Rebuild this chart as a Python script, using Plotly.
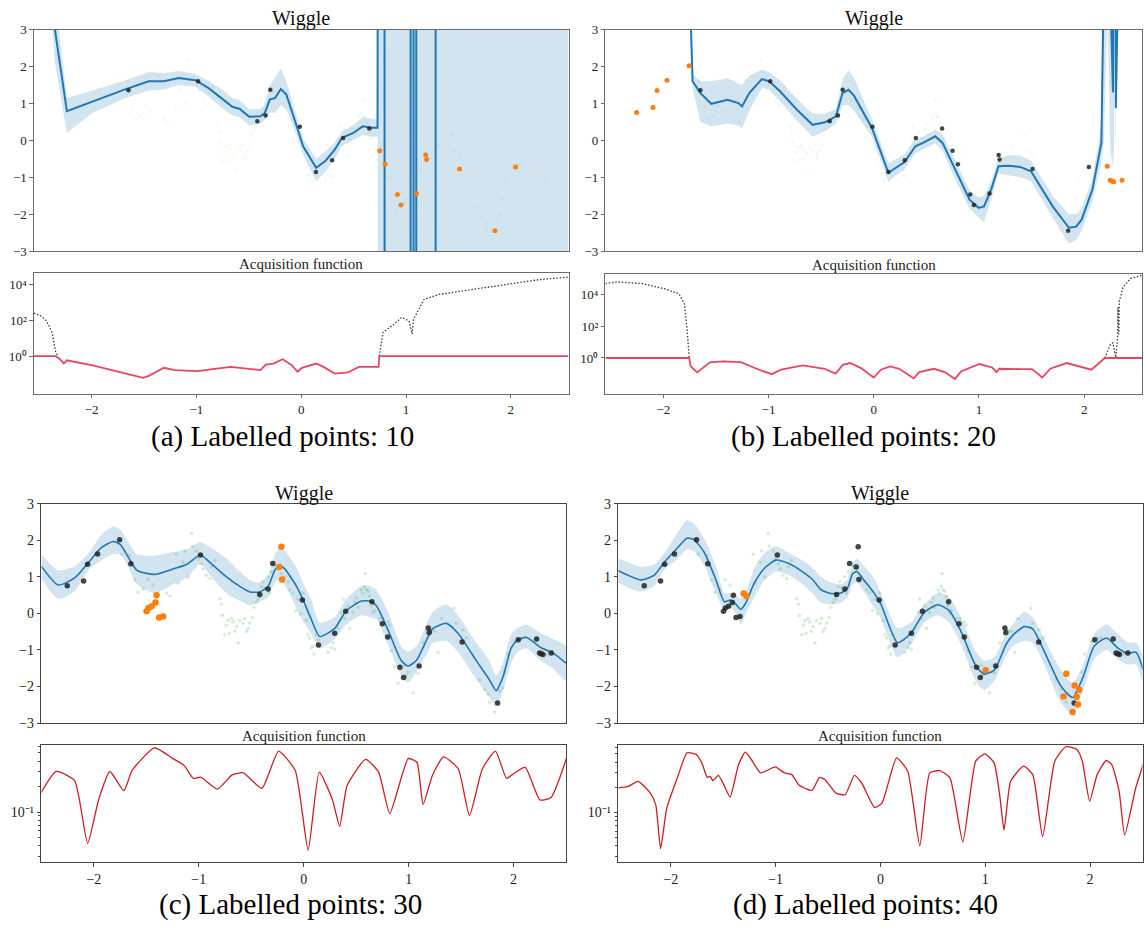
import plotly.graph_objects as go

SERIF = "Liberation Serif, Times New Roman, serif"
BLUE = "#1f77b4"
BAND = "rgba(31,119,180,0.2)"
ORANGE = "#ff7f0e"
DARK = "rgba(35,35,35,0.85)"
W, H = 1144, 936

# ---------------- labelled points, in the order they were acquired ----------------
batch0_x = [-1.648, -0.984, -0.419, -0.340, -0.295, -0.013, 0.140, 0.295, 0.400, 0.650]
batch0_y = [1.36, 1.60, 0.52, 0.67, 1.37, 0.37, -0.86, -0.54, 0.06, 0.32]
batch1_x = [0.749, 0.800, 0.917, 0.952, 1.100, 1.187, 1.196, 1.510, 1.848, 2.045]
batch1_y = [-0.28, -0.645, -1.47, -1.75, -1.44, -0.40, -0.52, -0.78, -2.45, -0.72]
batch2_x = [-2.254, -2.098, -2.060, -1.965, -1.755, 2.220, 2.248, 2.265, 2.280, 2.360]
batch2_y = [0.757, 0.89, 1.35, 1.63, 2.02, -0.70, -1.08, -1.10, -1.12, -1.08]
batch3_x = [-1.403, -1.413, -1.450, -1.480, -1.498, -1.378, -1.340, -0.213, -0.232, -0.206]
batch3_y = [0.50, 0.30, 0.20, 0.15, 0.06, -0.11, -0.08, 1.83, 1.27, 0.93]
batch4_x = [-1.305, -1.280, 1.003, 1.773, 1.747, 1.852, 1.897, 1.872, 1.884, 1.833]
batch4_y = [0.55, 0.48, -1.553, -1.65, -2.27, -1.97, -2.09, -2.28, -2.49, -2.70]

# ---------------- unlabelled pool ----------------
pool_x = [-1.737, -1.657, -1.610, -1.578, -1.530, -1.483, -1.435, -1.308, -1.276, -1.213,
          -1.197, -1.149, -1.133, -1.102, -1.070, -1.060, -1.022, -1.006, -0.975, -0.959,
          -0.927, -0.895, -0.879, -0.848, -0.800, -0.784, -0.775, -0.752, -0.737, -0.721,
          -0.711, -0.689, -0.673, -0.657, -0.641, -0.625, -0.610, -0.578, -0.562, -0.546,
          -0.530, -0.514, -0.489, -0.476, -0.451, -0.435, -0.419, -0.403, -0.387, -0.371,
          -0.340, -0.324, -0.308, -0.260, -0.213, -0.181, -0.149, -0.133, -0.102, -0.076,
          -0.054, -0.032, -0.006, 0.025, 0.041, 0.057, 0.073, 0.089, 0.098, 0.121,
          0.137, 0.232, 0.263, 0.279, 0.295, 0.327, 0.359, 0.375, 0.390, 0.422,
          0.438, 0.470, 0.486, 0.502, 0.517, 0.549, 0.565, 0.581, 0.587, 0.597,
          0.613, 0.629, 0.644, 0.660, 0.676, 0.724, 0.756, 0.803, 0.819, 0.835,
          0.867, 0.898, 0.962, 0.978, 0.994, 1.041, 1.089, 1.137, 1.184, 1.216,
          1.248, 1.279, 1.311, 1.432, 1.454, 1.517, 1.549, 1.676, 1.724, 1.756,
          1.771, 1.819, 1.867, 1.898, 1.914, 1.946, 2.010, 2.073, 2.105, 2.327]
pool_y = [1.62, 1.58, 0.92, 0.58, 0.67, 0.93, 0.78, 0.56, 0.48, 1.62,
          0.83, 1.40, 1.71, 1.00, 2.19, 1.84, 1.71, 1.49, 1.36, 1.22,
          1.05, 0.96, 1.27, 1.45, 0.40, 0.25, -0.05, -0.58, -0.32, -0.19,
          -0.54, -0.14, -0.23, -0.49, -0.36, -0.80, -0.19, -0.27, -0.14, -0.49,
          -0.41, -0.27, -0.12, 0.17, 0.30, 0.39, 0.48, 0.74, 0.87, 0.70,
          1.00, 0.56, 1.14, 1.31, 1.09, 1.00, 0.87, 0.65, 0.56, 0.08,
          0.39, -0.01, 0.56, -0.19, -0.58, -0.67, -0.94, -0.89, -1.11, -0.58,
          -0.72, -1.07, -0.94, -0.80, -0.98, -0.41, 0.03, 0.39, -0.14, 0.21,
          -0.41, 0.03, 0.30, 0.43, 0.17, 0.65, 0.56, 0.74, 1.09, 0.65,
          0.61, 0.48, 0.21, 0.03, 0.08, -0.14, -0.14, -0.23, -0.32, -1.02,
          -1.46, -1.91, -1.42, -1.69, -1.60, -2.17, -1.64, -0.80, -0.58, -0.45,
          -0.49, -1.07, -0.14, 0.14, -0.27, -0.45, -0.67, -1.82, -2.08, -2.21,
          -2.43, -2.70, -2.13, -2.04, -1.60, -1.11, -0.76, -0.67, -0.67, -1.11]

# ---------------- posterior mean and band, 10 labelled ----------------
a_x = [-2.55, -2.45, -2.35, -2.236, -1.99, -1.70, -1.455, -1.31, -1.17, -1.01,
       -0.887, -0.745, -0.657, -0.586, -0.497, -0.39, -0.348, -0.30, -0.248, -0.195,
       -0.142, -0.053, 0.018, 0.142, 0.23, 0.32, 0.39, 0.497, 0.586, 0.674,
       0.728, 0.752, 0.79, 0.80, 1.04, 1.047, 1.068, 1.075, 1.095, 1.10,
       1.28, 1.285, 2.55]
a_mean = [12, 7.5, 3.0, 0.79, 1.06, 1.36, 1.60, 1.60, 1.69, 1.63,
          1.42, 1.105, 0.91, 0.85, 0.64, 0.65, 0.74, 1.105, 1.15, 1.39,
          1.24, 0.47, -0.16, -0.745, -0.56, -0.25, 0.07, 0.20, 0.38, 0.34,
          0.34, 60, 60, -60, -60, 60, 60, -60, -60, 60,
          60, -60, -60]
a_up = [14, 9, 3.9, 1.15, 1.35, 1.60, 1.85, 1.82, 1.88, 1.80,
        1.62, 1.35, 1.15, 1.08, 0.85, 0.85, 0.95, 1.50, 1.70, 1.95,
        1.60, 0.75, 0.05, -0.5, -0.3, -0.05, 0.25, 0.40, 0.62, 0.60,
        0.55, 100, 100, 100, 100, 100, 100, 100, 100, 100,
        100, 100, 100]
a_lo = [10, 6, 2.1, 0.2, 0.75, 1.12, 1.35, 1.38, 1.50, 1.45,
        1.20, 0.85, 0.67, 0.62, 0.40, 0.45, 0.55, 0.75, 0.75, 0.95,
        0.85, 0.20, -0.40, -1.10, -0.85, -0.50, -0.15, 0.0, 0.15, 0.10,
        0.10, -100, -100, -100, -100, -100, -100, -100, -100, -100,
        -100, -100, -100]

# ---------------- 20 labelled ----------------
b_x = [-2.55, -1.76, -1.739, -1.722, -1.647, -1.544, -1.389, -1.286, -1.252, -1.183,
       -1.063, -0.994, -0.891, -0.737, -0.582, -0.462, -0.359, -0.297, -0.239, -0.188,
       -0.016, 0.139, 0.293, 0.396, 0.482, 0.585, 0.654, 0.774, 0.911, 0.997,
       1.048, 1.117, 1.186, 1.289, 1.392, 1.495, 1.701, 1.855, 1.924, 1.976,
       2.078, 2.164, 2.19, 2.22, 2.25, 2.274, 2.284, 2.29, 2.298, 2.301,
       2.304, 2.31, 2.55]
b_mean = [40, 20, 3.2, 1.60, 1.28, 0.99, 1.10, 1.01, 0.92, 1.28,
          1.66, 1.60, 1.33, 0.85, 0.42, 0.49, 0.65, 1.28, 1.37, 1.21,
          0.33, -0.88, -0.59, -0.16, -0.05, 0.11, -0.07, -0.79, -1.61, -1.83,
          -1.79, -1.33, -0.70, -0.69, -0.72, -0.84, -1.79, -2.37, -2.34, -2.15,
          -1.34, -0.07, 5, 15, 4, 1.3, 4, 15, 4, 0.87,
          4, 20, 40]
b_up = [60, 30, 4, 1.8, 1.6, 1.6, 1.68, 1.55, 1.50, 1.75,
        1.92, 1.85, 1.62, 1.15, 0.72, 0.72, 0.85, 1.65, 1.90, 1.70,
        0.55, -0.62, -0.38, 0.05, 0.12, 0.30, 0.15, -0.55, -1.35, -1.55,
        -1.50, -1.10, -0.50, -0.40, -0.42, -0.55, -1.50, -2.00, -2.00, -1.85,
        -1.05, 0.40, 10, 30, 10, 3.2, 10, 30, 10, 6,
        10, 40, 60]
b_lo = [30, 10, 2.5, 1.4, 0.5, 0.38, 0.45, 0.40, 0.33, 0.80,
        1.42, 1.38, 1.05, 0.55, 0.10, 0.25, 0.45, 0.95, 0.95, 0.80,
        0.10, -1.12, -0.78, -0.35, -0.22, -0.08, -0.28, -1.05, -1.85, -2.10,
        -2.20, -1.60, -0.90, -0.95, -1.00, -1.10, -2.10, -2.80, -2.70, -2.45,
        -1.65, -0.60, 0.0, 3.5, -0.3, -0.7, -0.3, 5, 0.0, -0.3,
        0.0, 10, 40]

# ---------------- 30 labelled ----------------
c_x = [-2.50, -2.34, -2.18, -2.05, -1.93, -1.815, -1.75, -1.67, -1.59, -1.42,
       -1.245, -1.117, -0.984, -0.895, -0.736, -0.61, -0.514, -0.42, -0.34, -0.276,
       -0.229, -0.181, -0.07, 0.0, 0.07, 0.152, 0.295, 0.407, 0.55, 0.629,
       0.692, 0.803, 0.93, 0.993, 1.073, 1.184, 1.232, 1.359, 1.47, 1.645,
       1.771, 1.835, 1.90, 1.978, 2.04, 2.12, 2.264, 2.374, 2.50]
c_mean = [1.29, 0.78, 0.98, 1.40, 1.80, 1.97, 1.89, 1.53, 1.18, 1.07,
          1.22, 1.34, 1.60, 1.40, 1.00, 0.74, 0.59, 0.59, 0.74, 1.18,
          1.31, 1.22, 0.75, 0.33, -0.15, -0.63, -0.41, 0.08, 0.34, 0.34,
          0.21, -0.45, -1.29, -1.44, -1.29, -0.65, -0.41, -0.27, -0.54, -1.29,
          -1.82, -2.11, -1.73, -0.94, -0.73, -0.65, -0.94, -1.08, -1.36]
c_up = [1.62, 1.18, 1.30, 1.65, 2.15, 2.38, 2.30, 1.95, 1.62, 1.58,
        1.68, 1.75, 1.95, 1.82, 1.50, 1.15, 0.92, 0.85, 1.05, 1.60,
        1.78, 1.72, 1.25, 0.80, 0.40, -0.25, -0.10, 0.40, 0.75, 0.75,
        0.65, 0.05, -0.90, -1.05, -0.90, -0.20, 0.05, 0.25, -0.05, -0.80,
        -1.30, -1.70, -1.35, -0.55, -0.40, -0.30, -0.55, -0.70, -0.90]
c_lo = [0.95, 0.40, 0.62, 1.20, 1.45, 1.62, 1.62, 1.25, 0.80, 0.55,
        0.80, 0.98, 1.35, 1.05, 0.55, 0.35, 0.22, 0.32, 0.45, 0.85,
        0.90, 0.78, 0.15, -0.25, -0.55, -0.95, -0.70, -0.30, -0.05, -0.10,
        -0.15, -0.85, -1.70, -1.90, -1.60, -1.05, -0.80, -0.75, -1.05, -1.80,
        -2.30, -2.55, -2.10, -1.35, -1.05, -0.95, -1.30, -1.50, -1.85]

# ---------------- 40 labelled ----------------
d_x = [-2.509, -2.285, -2.158, -2.063, -1.951, -1.846, -1.777, -1.681, -1.57, -1.49,
       -1.427, -1.379, -1.331, -1.283, -1.204, -1.109, -0.997, -0.870, -0.743, -0.648,
       -0.568, -0.472, -0.377, -0.314, -0.266, -0.224, -0.171, -0.059, 0.005, 0.163,
       0.291, 0.418, 0.545, 0.656, 0.768, 0.911, 0.990, 1.086, 1.198, 1.261,
       1.372, 1.452, 1.547, 1.722, 1.833, 1.929, 2.04, 2.158, 2.262, 2.358,
       2.438, 2.508]
d_mean = [1.18, 0.92, 1.05, 1.40, 1.75, 2.06, 2.02, 1.67, 0.92, 0.32,
          0.37, 0.25, 0.11, 0.30, 0.83, 1.23, 1.46, 1.36, 1.14, 0.93,
          0.65, 0.545, 0.56, 0.70, 1.09, 1.15, 0.96, 0.55, 0.25, -0.80,
          -0.54, 0.03, 0.24, 0.08, -0.49, -1.44, -1.66, -1.55, -0.85, -0.60,
          -0.36, -0.42, -0.94, -1.99, -2.30, -1.77, -0.89, -0.67, -0.94, -1.09,
          -1.06, -1.55]
d_up = [1.52, 1.28, 1.35, 1.65, 2.15, 2.55, 2.45, 2.05, 1.30, 0.55,
        0.55, 0.50, 0.40, 0.60, 1.25, 1.65, 1.85, 1.65, 1.45, 1.25,
        1.00, 0.85, 0.80, 0.95, 1.40, 1.50, 1.35, 0.95, 0.55, -0.40,
        -0.25, 0.25, 0.55, 0.45, -0.10, -1.05, -1.30, -1.20, -0.55, -0.30,
        0.05, -0.10, -0.60, -1.55, -1.90, -1.45, -0.55, -0.30, -0.55, -0.80,
        -0.80, -1.20]
d_lo = [0.85, 0.60, 0.75, 1.20, 1.45, 1.75, 1.70, 1.30, 0.55, 0.10,
        0.15, 0.00, -0.30, 0.00, 0.45, 0.90, 1.15, 1.05, 0.80, 0.55,
        0.30, 0.25, 0.30, 0.45, 0.80, 0.85, 0.65, 0.15, -0.15, -1.20,
        -0.85, -0.25, -0.05, -0.25, -0.85, -1.85, -2.10, -1.85, -1.15, -0.90,
        -0.75, -0.80, -1.30, -2.45, -2.75, -2.15, -1.25, -1.00, -1.25, -1.40,
        -1.40, -1.90]

# ---------------- acquisition functions (log10 of value) ----------------
acq_a_x = [-2.55, -2.343, -2.307, -2.265, -2.236, -2.22, -1.99, -1.508, -1.455, -1.31,
           -1.207, -0.994, -0.674, -0.39, -0.337, -0.266, -0.177, -0.089, -0.035, 0.007,
           0.142, 0.213, 0.319, 0.444, 0.55, 0.674, 0.738, 0.745, 2.55]
acq_a_log = [0, 0, -0.15, -0.42, -0.24, -0.26, -0.52, -1.22, -1.11, -0.66,
             -0.79, -0.85, -0.61, -0.79, -0.48, -0.42, -0.18, -0.52, -0.88, -0.66,
             -0.42, -0.61, -0.98, -0.92, -0.61, -0.61, -0.61, 0, 0]
raw_a_x = [-2.55, -2.484, -2.43, -2.378, -2.343, -2.32, None,
           0.745, 0.78, 0.887, 0.958, 1.029, 1.058, 1.072, 1.171, 1.313, 1.56, 1.917, 2.27, 2.55]
raw_a_log = [2.40, 2.25, 1.97, 1.33, 0.22, 0.0, None,
             0.0, 1.33, 1.79, 2.16, 1.97, 1.24, 2.06, 3.17, 3.45, 3.67, 4.0, 4.28, 4.42]

acq_b_x = [-2.55, -1.754, -1.74, -1.678, -1.557, -1.436, -1.263, -1.09, -0.969, -0.882,
           -0.675, -0.467, -0.363, -0.294, -0.225, -0.121, 0.0, 0.069, 0.156, 0.242,
           0.38, 0.433, 0.571, 0.675, 0.772, 0.83, 1.003, 1.125, 1.166, 1.194,
           1.401, 1.505, 1.602, 1.678, 1.834, 1.955, 2.069, 2.197, 2.55]
acq_b_log = [0, 0, -0.53, -0.91, -0.28, -0.21, -0.26, -0.74, -1.02, -0.74,
             -0.47, -0.68, -0.98, -0.43, -0.32, -0.64, -1.23, -0.74, -0.53, -0.68,
             -1.28, -0.89, -0.68, -0.89, -1.32, -0.85, -0.38, -0.6, -0.89, -0.68,
             -0.70, -0.70, -1.23, -0.68, -0.32, -0.53, -0.74, 0, 0]
raw_b_x = [-2.55, -2.44, -2.197, -1.99, -1.851, -1.8, -1.775, -1.754, None,
           2.197, 2.249, 2.273, 2.301, 2.318, 2.322, 2.329, 2.335, 2.37, 2.44, 2.55]
raw_b_log = [4.68, 4.79, 4.68, 4.36, 4.04, 3.40, 1.91, 0.0, None,
             0.0, 0.85, 0.96, 0.04, 1.28, 3.19, 1.5, 3.6, 4.47, 5.0, 5.21]

acq_c_x = [-2.512, -2.36, -2.184, -2.06, -1.954, -1.848, -1.714, -1.636, -1.424, -1.247,
           -1.141, -1.053, -0.982, -0.823, -0.682, -0.576, -0.399, -0.24, -0.081, 0.042,
           0.148, 0.272, 0.343, 0.413, 0.59, 0.714, 0.82, 0.996, 1.078, 1.138,
           1.226, 1.332, 1.473, 1.58, 1.703, 1.827, 1.933, 1.986, 2.11, 2.251,
           2.357, 2.509]
acq_c_log = [-0.788, -0.52, -0.628, -1.368, -0.848, -0.52, -0.748, -0.508, -0.24, -0.368,
             -0.448, -0.6, -0.588, -0.728, -0.56, -0.536, -0.72, -0.28, -0.508, -1.448,
             -0.528, -0.848, -1.168, -0.688, -0.376, -0.528, -1.016, -0.368, -0.408, -0.908,
             -0.568, -0.348, -0.488, -1.04, -0.488, -0.28, -0.6, -0.56, -0.468, -0.856,
             -0.828, -0.348]

acq_d_x = [-2.519, -2.407, -2.312, -2.196, -2.144, -2.098, -2.039, -1.933, -1.846, -1.758,
           -1.705, -1.653, -1.625, -1.6, -1.547, -1.495, -1.435, -1.354, -1.291, -1.232,
           -1.144, -1.004, -0.916, -0.846, -0.775, -0.653, -0.582, -0.53, -0.425, -0.337,
           -0.249, -0.179, -0.056, 0.014, 0.154, 0.26, 0.375, 0.47, 0.565, 0.663,
           0.786, 0.909, 0.996, 1.084, 1.137, 1.179, 1.242, 1.365, 1.453, 1.547,
           1.663, 1.768, 1.874, 1.926, 1.996, 2.067, 2.154, 2.207, 2.277, 2.33,
           2.435, 2.516]
acq_d_log = [-0.708, -0.688, -0.628, -0.768, -0.908, -1.428, -0.948, -0.568, -0.288, -0.308,
             -0.408, -0.58, -0.568, -0.62, -0.556, -0.668, -0.816, -0.428, -0.28, -0.368,
             -0.528, -0.456, -0.528, -0.548, -0.676, -0.736, -0.58, -0.608, -0.768, -0.788,
             -0.556, -0.648, -0.94, -0.888, -0.348, -0.508, -1.396, -0.528, -0.50, -0.588,
             -1.348, -0.388, -0.30, -0.408, -0.788, -1.208, -0.628, -0.448, -0.548, -1.288,
             -0.388, -0.216, -0.248, -0.388, -0.868, -0.548, -0.38, -0.428, -0.748, -1.268,
             -0.708, -0.388]

captions = ["(a) Labelled points: 10", "(b) Labelled points: 20",
            "(c) Labelled points: 30", "(d) Labelled points: 40"]


def pow10(vals):
    return [None if v is None else 10 ** v for v in vals]


def px_x(p):
    return p / W


def px_y(p):
    return 1 - p / H


# panel geometry in pixels
panels = [
    dict(l=34, r=569, mt=23, mb=248, at=270, ab=393, xr=[-2.55, 2.55], cap=(283, 437)),
    dict(l=606, r=1143, mt=23, mb=248, at=271, ab=393, xr=[-2.55, 2.55], cap=(864, 437)),
    dict(l=41.5, r=566.5, mt=505, mb=727.7, at=750, ab=869, xr=[-2.5, 2.5], cap=(291, 912)),
    dict(l=619, r=1143.5, mt=505, mb=727.7, at=750, ab=869, xr=[-2.5, 2.5], cap=(866, 912)),
]
acq_ranges = [[-2.11, 4.67], [-2.25, 5.31], [-1.59, -0.207], [-1.59, -0.195]]

mains = [
    (a_x, a_mean, a_up, a_lo, batch0_x, batch0_y, batch1_x, batch1_y),
    (b_x, b_mean, b_up, b_lo, batch0_x + batch1_x, batch0_y + batch1_y, batch2_x, batch2_y),
    (c_x, c_mean, c_up, c_lo, batch0_x + batch1_x + batch2_x, batch0_y + batch1_y + batch2_y,
     batch3_x, batch3_y),
    (d_x, d_mean, d_up, d_lo, batch0_x + batch1_x + batch2_x + batch3_x,
     batch0_y + batch1_y + batch2_y + batch3_y, batch4_x, batch4_y),
]
acqs = [
    (acq_a_x, acq_a_log, raw_a_x, raw_a_log),
    (acq_b_x, acq_b_log, raw_b_x, raw_b_log),
    (acq_c_x, acq_c_log, None, None),
    (acq_d_x, acq_d_log, None, None),
]

fig = go.Figure()
layout = dict(width=W, height=H, margin=dict(l=0, r=0, t=0, b=0),
              paper_bgcolor="white", plot_bgcolor="white", showlegend=False,
              font=dict(family=SERIF, color="#222"))
annotations = []

for i in range(4):
    g = panels[i]
    top_row = i < 2
    spine = "#6a6a6a" if top_row else "#444444"
    spine_w = 1.0 if top_row else 1.3
    mx, my = f"x{2 * i + 1}", f"y{2 * i + 1}"
    ax, ay = f"x{2 * i + 2}", f"y{2 * i + 2}"
    xs, mean, up, lo, lx, ly, nx, ny = mains[i]
    shape = "linear" if top_row else "spline"

    # uncertainty band
    fig.add_trace(go.Scatter(x=xs + xs[::-1], y=up + lo[::-1], fill="toself",
                             fillcolor=BAND, line=dict(width=0, shape=shape, smoothing=0.6),
                             mode="lines", hoverinfo="skip", xaxis=mx, yaxis=my))
    # unlabelled pool
    fig.add_trace(go.Scatter(x=pool_x, y=pool_y, mode="markers",
                             marker=dict(size=3.5, color="#2ca02c",
                                         opacity=0.05 if top_row else 0.2),
                             xaxis=mx, yaxis=my))
    # posterior mean
    fig.add_trace(go.Scatter(x=xs, y=mean, mode="lines",
                             line=dict(color=BLUE, width=2.0 if top_row else 1.6,
                                       shape=shape, smoothing=0.6),
                             xaxis=mx, yaxis=my))
    # labelled points
    fig.add_trace(go.Scatter(x=lx, y=ly, mode="markers",
                             marker=dict(size=4.5 if top_row else 5.5, color=DARK),
                             xaxis=mx, yaxis=my))
    # newly queried points
    fig.add_trace(go.Scatter(x=nx, y=ny, mode="markers",
                             marker=dict(size=5 if top_row else 6.5, color=ORANGE),
                             xaxis=mx, yaxis=my))

    # acquisition function
    qx, qlog, rx, rlog = acqs[i]
    if rx is not None:
        fig.add_trace(go.Scatter(x=rx, y=pow10(rlog), mode="lines",
                                 line=dict(color="#3a3a3a", width=1.3, dash="1.5px,1.8px"),
                                 connectgaps=False, xaxis=ax, yaxis=ay))
    fig.add_trace(go.Scatter(x=qx, y=pow10(qlog), mode="lines",
                             line=dict(color="#ea4560" if top_row else "#c81e24",
                                       width=1.8 if top_row else 1.3,
                                       shape="linear" if top_row else "spline",
                                       smoothing=0.5),
                             xaxis=ax, yaxis=ay))

    xdom = [px_x(g["l"]), px_x(g["r"])]
    tickfont = dict(family=SERIF, size=13 if top_row else 14, color="#222")
    common_x = dict(domain=xdom, range=g["xr"], showline=True, mirror=True,
                    linecolor=spine, linewidth=spine_w, showgrid=False, zeroline=False,
                    tickvals=[-2, -1, 0, 1, 2],
                    ticktext=["\u22122", "\u22121", "0", "1", "2"], tickfont=tickfont)
    layout[f"xaxis{2 * i + 1}"] = dict(common_x, anchor=my, showticklabels=False, ticks="")
    layout[f"xaxis{2 * i + 2}"] = dict(common_x, anchor=ay, ticks="outside", ticklen=3.5,
                                       tickcolor=spine, tickwidth=1)
    layout[f"yaxis{2 * i + 1}"] = dict(
        domain=[px_y(g["mb"]), px_y(g["mt"])], range=[-3, 3], anchor=mx,
        showline=True, mirror=True, linecolor=spine, linewidth=spine_w,
        showgrid=False, zeroline=False, ticks="outside", ticklen=3.5, tickcolor=spine,
        tickvals=[-3, -2, -1, 0, 1, 2, 3],
        ticktext=["\u22123", "\u22122", "\u22121", "0", "1", "2", "3"], tickfont=tickfont)
    acq_y = dict(domain=[px_y(g["ab"]), px_y(g["at"])], range=acq_ranges[i], type="log",
                 anchor=ax, showline=True, mirror=True, linecolor=spine, linewidth=spine_w,
                 showgrid=False, zeroline=False, ticks="outside", ticklen=3.5,
                 tickcolor=spine, tickfont=tickfont)
    if top_row:
        acq_y.update(tickvals=[1, 100, 10000],
                     ticktext=["10\u2070", "10\u00b2", "10\u2074"])
    else:
        acq_y.update(tickvals=[0.1], ticktext=["10\u207b\u00b9"],
                     minor=dict(ticks="outside", ticklen=2, tickcolor=spine,
                                tickvals=[0.03, 0.04, 0.05, 0.06, 0.07, 0.08, 0.09,
                                          0.2, 0.3, 0.4, 0.5, 0.6]))
    layout[f"yaxis{2 * i + 2}"] = acq_y

    cx = (g["l"] + g["r"]) / 2 / W
    annotations.append(dict(text="Wiggle", x=cx, y=px_y(g["mt"] - 11), xref="paper",
                            yref="paper", showarrow=False, xanchor="center",
                            yanchor="middle",
                            font=dict(family=SERIF, size=20, color="#111")))
    annotations.append(dict(text="Acquisition function", x=cx, y=px_y(g["at"] - 9),
                            xref="paper", yref="paper", showarrow=False, xanchor="center",
                            yanchor="middle",
                            font=dict(family=SERIF, size=15, color="#222")))
    annotations.append(dict(text=captions[i], x=px_x(g["cap"][0]), y=px_y(g["cap"][1]),
                            xref="paper", yref="paper", showarrow=False, xanchor="center",
                            yanchor="middle",
                            font=dict(family=SERIF, size=29, color="#000")))

layout["annotations"] = annotations
fig.update_layout(**layout)
fig.write_html("out.html")
